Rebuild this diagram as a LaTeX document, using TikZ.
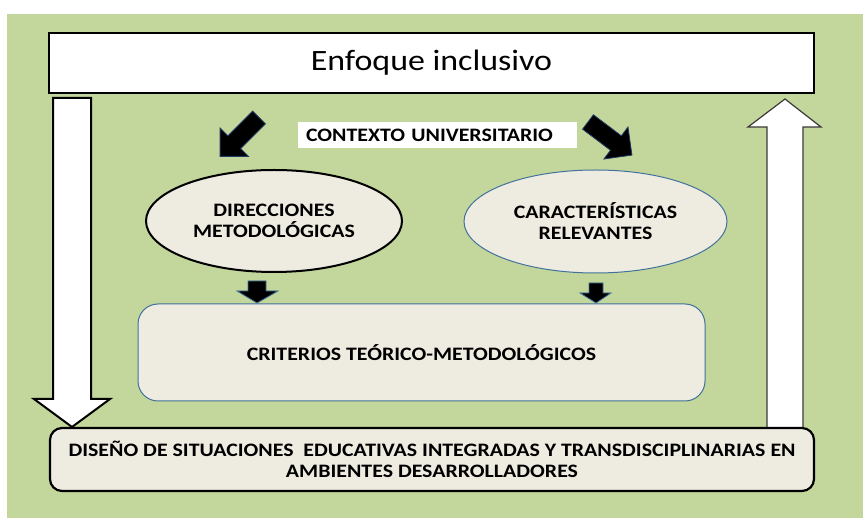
\documentclass[tikz,border=0pt]{standalone}
\usepackage{fontspec}
\setmainfont{Carlito}[FakeStretch=1.15]
\usetikzlibrary{shapes.geometric,calc}
\definecolor{bggreen}{HTML}{C3D69B}
\definecolor{boxtan}{HTML}{EEECE1}
\definecolor{outblue}{HTML}{41719C}
\definecolor{arrowgray}{HTML}{3A3A3A}
\definecolor{navyline}{HTML}{1F3864}
\begin{document}
\begin{tikzpicture}[x=1pt,y=-1pt,
  lbl/.style={font=\bfseries\fontsize{19}{21}\selectfont, text=black, align=center},
  bigarrowL/.style={draw=black, line width=2pt, fill=white, line join=miter},
  bigarrowR/.style={draw=arrowgray, line width=1.2pt, fill=white, line join=miter},
  blockarrow/.style={fill=black, draw=navyline, line width=0.8pt, line join=miter},
  smallarrow/.style={fill=black, draw=outblue, line width=0.8pt, line join=miter},
  tanbox/.style={fill=boxtan, inner sep=0pt}]
\useasboundingbox (0,0) rectangle (863,518);
\fill[white] (0,0) rectangle (863,518);
\fill[bggreen] (7,14) rectangle (863,518);

% top box
\node[draw, line width=2pt, fill=white, minimum width=765pt, minimum height=60pt, inner sep=0pt,
      font=\fontsize{29.5}{32}\selectfont] (top) at (431.5,63) {Enfoque inclusivo};

% big white arrows
\draw[bigarrowL] (53,98) -- (91,98) -- (91,399) -- (110,399) -- (72,427) -- (34,399) -- (53,399) -- cycle;
\draw[bigarrowR] (767,428) -- (767,127) -- (748,127) -- (785,99) -- (821,127) -- (803,127) -- (803,428) -- cycle;

% bottom box
\node[draw, line width=2.2pt, tanbox, rounded corners=12pt, minimum width=764pt, minimum height=63pt, lbl]
  (bot) at (432,459.5) {DISEÑO DE SITUACIONES~ EDUCATIVAS INTEGRADAS Y TRANSDISCIPLINARIAS EN\\AMBIENTES DESARROLLADORES};

% criterios box
\node[draw=outblue, line width=1pt, tanbox, rounded corners=20pt, minimum width=567pt, minimum height=97pt, lbl]
  (crit) at (421.5,352.5) {CRITERIOS TEÓRICO-METODOLÓGICOS};

% ellipses
\node[ellipse, draw=black, line width=2pt, tanbox, minimum width=256pt, minimum height=102pt, lbl]
  (dir) at (274,221) {DIRECCIONES\\METODOLÓGICAS};
\node[ellipse, draw=outblue, line width=1pt, tanbox, minimum width=263pt, minimum height=103pt, lbl]
  (car) at (595.5,221.5) {CARACTERÍSTICAS\\RELEVANTES};

% contexto label
\node[fill=white, lbl, align=left, text width=263pt, inner xsep=8pt, inner ysep=0pt, minimum height=26pt]
  (ctx) at (437.5,135) {CONTEXTO UNIVERSITARIO};

% black diagonal block arrows
\begin{scope}[shift={(259,117.5)}, rotate=225]
  \draw[blockarrow] (0,9) -- (35,9) -- (35,20) -- (55,0) -- (35,-20) -- (35,-9) -- (0,-9) -- cycle;
\end{scope}
\begin{scope}[shift={(588,122)}, rotate=-37]
  \draw[blockarrow] (0,9) -- (35,9) -- (35,20) -- (55,0) -- (35,-20) -- (35,-9) -- (0,-9) -- cycle;
\end{scope}

% small down arrows
\draw[smallarrow] (248,281) -- (266,281) -- (266,291) -- (278,291) -- (257,303) -- (237,291) -- (248,291) -- cycle;
\draw[smallarrow] (589,283) -- (603,283) -- (603,293) -- (611,293) -- (596,303) -- (580,293) -- (589,293) -- cycle;
\end{tikzpicture}
\end{document}
